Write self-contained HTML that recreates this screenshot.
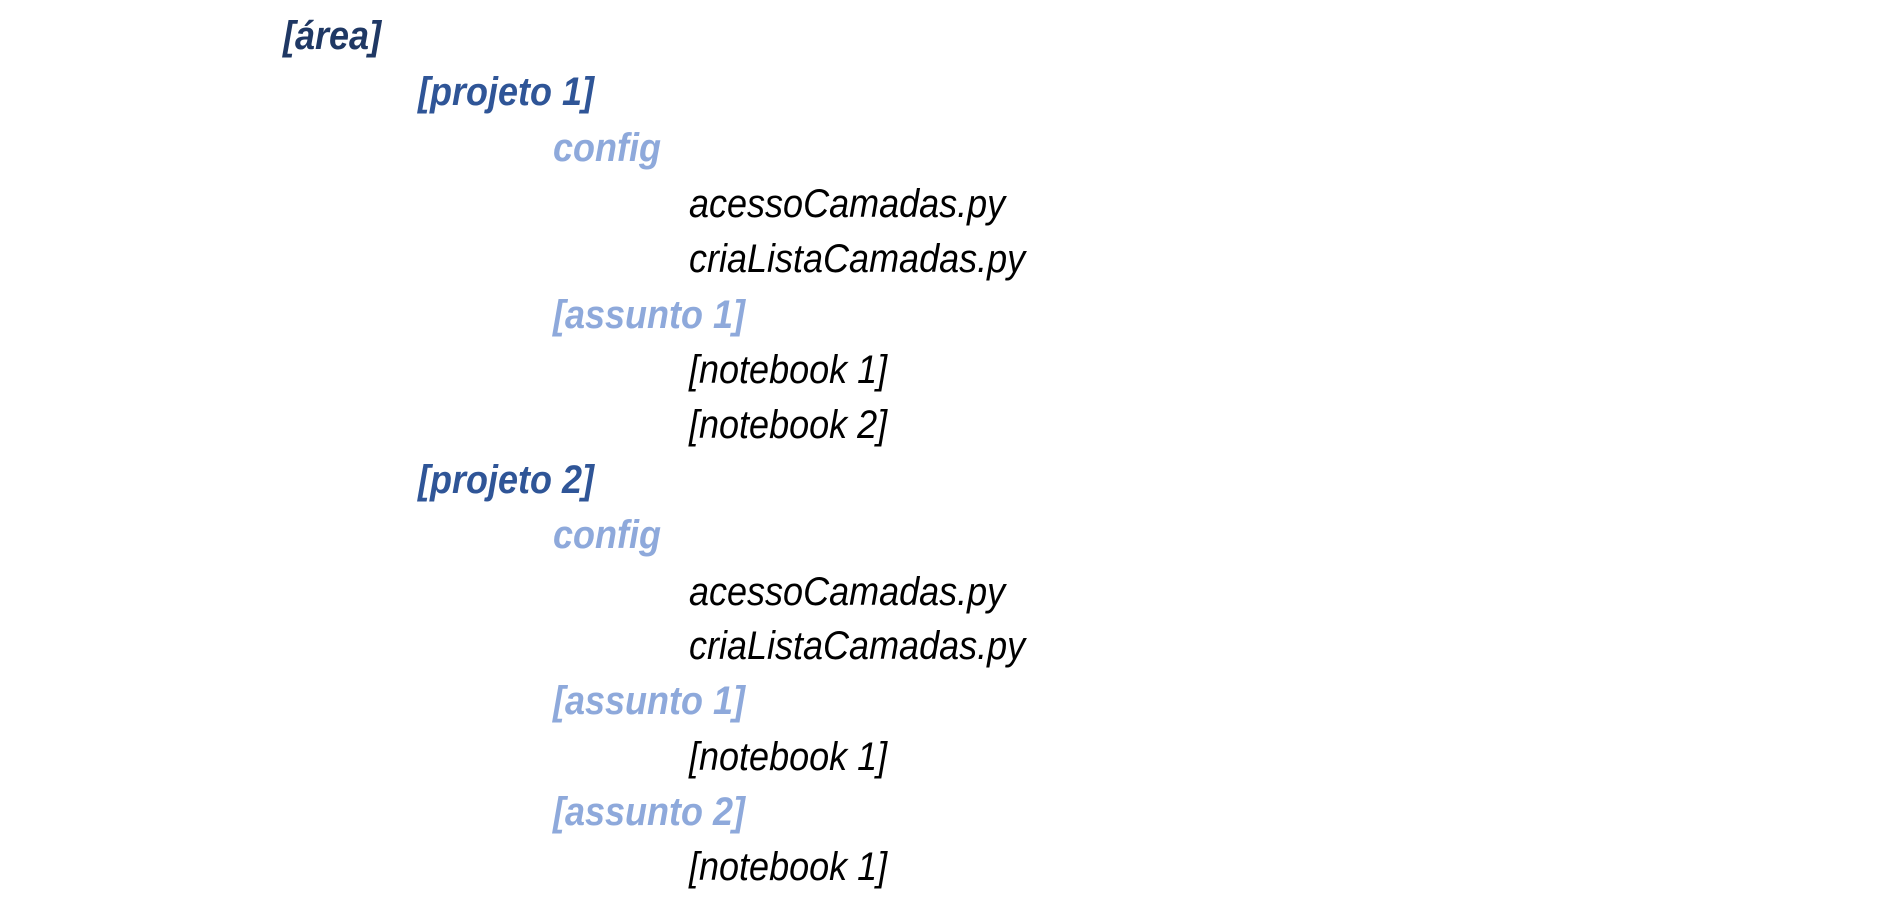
<!DOCTYPE html>
<html><head><meta charset="utf-8"><style>
body{margin:0;width:1885px;height:919px;background:#fff;position:relative;overflow:hidden;font-family:"Liberation Sans",sans-serif;font-style:italic;}
div{position:absolute;font-size:36px;line-height:44px;white-space:nowrap;transform:translateY(-22px) scaleY(1.1);transform-origin:left center;}
.a{color:#1F3864;font-weight:bold;left:283px}
.p{color:#2F5597;font-weight:bold;left:418px}
.c{color:#8EA9DB;font-weight:bold;left:553px}
.f{color:#000;left:689px}
</style></head><body>
<div class="a" style="top:36px">[área]</div>
<div class="p" style="top:92px">[projeto 1]</div>
<div class="c" style="top:148px">config</div>
<div class="f" style="top:204px">acessoCamadas.py</div>
<div class="f" style="top:259px">criaListaCamadas.py</div>
<div class="c" style="top:315px">[assunto 1]</div>
<div class="f" style="top:370px">[notebook 1]</div>
<div class="f" style="top:425px">[notebook 2]</div>
<div class="p" style="top:480px">[projeto 2]</div>
<div class="c" style="top:535px">config</div>
<div class="f" style="top:592px">acessoCamadas.py</div>
<div class="f" style="top:646px">criaListaCamadas.py</div>
<div class="c" style="top:701px">[assunto 1]</div>
<div class="f" style="top:757px">[notebook 1]</div>
<div class="c" style="top:812px">[assunto 2]</div>
<div class="f" style="top:867px">[notebook 1]</div>
</body></html>
